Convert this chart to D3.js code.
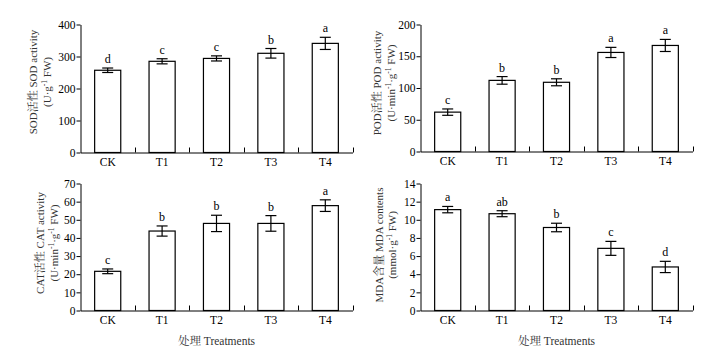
<!DOCTYPE html>
<html><head><meta charset="utf-8">
<script src="https://cdn.jsdelivr.net/npm/d3@7"></script>
<style>
html,body{margin:0;padding:0;background:#fff;}
svg{display:block;}
text{font-family:"Liberation Serif","Noto Serif CJK SC","Noto Sans CJK SC",serif;}
</style></head>
<body>
<svg id="chart" width="712" height="360"></svg>
<script>
const categories = ["CK","T1","T2","T3","T4"];

const sodValues = [257, 285, 294, 310, 341];
const sodErrors = [7, 8, 8, 15, 19];
const sodLetters = ["d","c","c","b","a"];
const sodTicks = [0,100,200,300,400];

const podValues = [62, 112, 109, 156, 167];
const podErrors = [5, 6, 5.5, 8, 9.5];
const podLetters = ["c","b","b","a","a"];
const podTicks = [0,50,100,150,200];

const catValues = [21.6, 43.8, 48, 48, 57.8];
const catErrors = [1.3, 2.8, 4.5, 4.3, 3.2];
const catLetters = ["c","b","b","b","a"];
const catTicks = [0,10,20,30,40,50,60,70];

const mdaValues = [11.12, 10.67, 9.15, 6.85, 4.8];
const mdaErrors = [0.35, 0.33, 0.47, 0.77, 0.62];
const mdaLetters = ["a","ab","b","c","d"];
const mdaTicks = [0,2,4,6,8,10,12,14];

const xTitle = "处理 Treatments";

const svg = d3.select("#chart");

const panels = [
  {vals:sodValues, errs:sodErrors, letters:sodLetters, ticks:sodTicks,
   x0:80.5, x1:352.5, yTop:24.5, yBot:152.5, lab1:"SOD活性 SOD activity",
   lab2:[["(U·g",0],["-1",1],[" FW)",0]], l1:-44, l2:-30, lc:82, xt:false},
  {vals:podValues, errs:podErrors, letters:podLetters, ticks:podTicks,
   x0:420.5, x1:692.5, yTop:24.5, yBot:151.5, lab1:"POD活性  POD activity",
   lab2:[["(U·min",0],["-1",1],["·g",0],["-1",1],[" FW)",0]], l1:-40, l2:-26, lc:83, xt:false},
  {vals:catValues, errs:catErrors, letters:catLetters, ticks:catTicks,
   x0:80.5, x1:352.5, yTop:183.5, yBot:310.5, lab1:"CAT活性 CAT activity",
   lab2:[["(U·min",0],["-1",1],["·g",0],["-1",1],[" FW)",0]], l1:-36.5, l2:-23, lc:243, xt:true},
  {vals:mdaValues, errs:mdaErrors, letters:mdaLetters, ticks:mdaTicks,
   x0:420.5, x1:692.5, yTop:183.5, yBot:310.5, lab1:"MDA含量 MDA contents",
   lab2:[["(mmol·g",0],["-1",1],[" FW)",0]], l1:-38, l2:-24.5, lc:245, xt:true}
];

panels.forEach(p => {
  const g = svg.append("g");
  const x = d3.scaleBand().domain(categories).range([p.x0, p.x1])
    .paddingInner(0.52).paddingOuter(0.26);
  const y = d3.scaleLinear().domain([0, p.ticks[p.ticks.length-1]]).range([p.yBot, p.yTop]);

  // y axis
  const ya = g.append("g").attr("transform", `translate(${p.x0},0)`)
    .call(d3.axisLeft(y).tickValues(p.ticks).tickSizeInner(4).tickSizeOuter(0).tickPadding(1));
  ya.selectAll("text").attr("font-size", 11.5).attr("fill", "#000")
    .style("font-family", '"Liberation Serif",serif');
  ya.selectAll("line,path").attr("stroke", "#000").attr("stroke-width", 1);

  // x axis
  const xa = g.append("g").attr("transform", `translate(0,${p.yBot})`)
    .call(d3.axisBottom(x).tickSizeInner(0).tickSizeOuter(0).tickPadding(5));
  xa.selectAll("text").attr("font-size", 11.5).attr("fill", "#000")
    .style("font-family", '"Liberation Serif",serif');
  xa.selectAll("path").attr("stroke", "#000").attr("stroke-width", 1);

  // boundary ticks (pointing up)
  const step = x.step();
  g.selectAll(".bt").data(categories).enter().append("line")
    .attr("x1", (d,i) => Math.round(p.x0 + step*(i+1)) + 0.5)
    .attr("x2", (d,i) => Math.round(p.x0 + step*(i+1)) + 0.5)
    .attr("y1", p.yBot).attr("y2", p.yBot - 5)
    .attr("stroke", "#000").attr("stroke-width", 1);

  // bars
  g.selectAll(".bar").data(p.vals).enter().append("rect")
    .attr("x", (d,i) => x(categories[i]))
    .attr("width", x.bandwidth())
    .attr("y", d => y(d))
    .attr("height", d => p.yBot - y(d))
    .attr("fill", "#fff").attr("stroke", "#000").attr("stroke-width", 1.2);

  // error bars
  const cap = 5.5;
  p.vals.forEach((v,i) => {
    const cx = x(categories[i]) + x.bandwidth()/2;
    const e = p.errs[i];
    g.append("line").attr("x1", cx).attr("x2", cx)
      .attr("y1", y(v+e)).attr("y2", y(v-e)).attr("stroke","#000").attr("stroke-width",1.2);
    g.append("line").attr("x1", cx-cap).attr("x2", cx+cap)
      .attr("y1", y(v+e)).attr("y2", y(v+e)).attr("stroke","#000").attr("stroke-width",1.2);
    g.append("line").attr("x1", cx-cap).attr("x2", cx+cap)
      .attr("y1", y(v-e)).attr("y2", y(v-e)).attr("stroke","#000").attr("stroke-width",1.2);
    g.append("text").attr("x", cx).attr("y", y(v+e) - 5)
      .attr("text-anchor","middle").attr("font-size", 12).attr("fill","#000")
      .text(p.letters[i]);
  });

  // y label
  g.append("text")
    .attr("transform", `translate(${p.x0 + p.l1},${p.lc}) rotate(-90)`)
    .attr("text-anchor","middle").attr("font-size", 11).attr("fill","#333")
    .text(p.lab1);
  const t2 = g.append("text")
    .attr("transform", `translate(${p.x0 + p.l2},${p.lc}) rotate(-90)`)
    .attr("text-anchor","middle").attr("font-size", 11).attr("fill","#333");
  p.lab2.forEach(([s, sup], k) => {
    const prevSup = k>0 ? p.lab2[k-1][1] : 0;
    const ts = t2.append("tspan").text(s);
    if (sup) { ts.attr("dy", -4).attr("font-size", 7.5); }
    else { ts.attr("dy", prevSup ? 4 : 0); }
  });

  if (p.xt) {
    g.append("text").attr("x", (p.x0+p.x1)/2).attr("y", p.yBot + 34)
      .attr("text-anchor","middle").attr("font-size", 11.5).attr("fill","#333")
      .text(xTitle);
  }
});
</script>
</body></html>
